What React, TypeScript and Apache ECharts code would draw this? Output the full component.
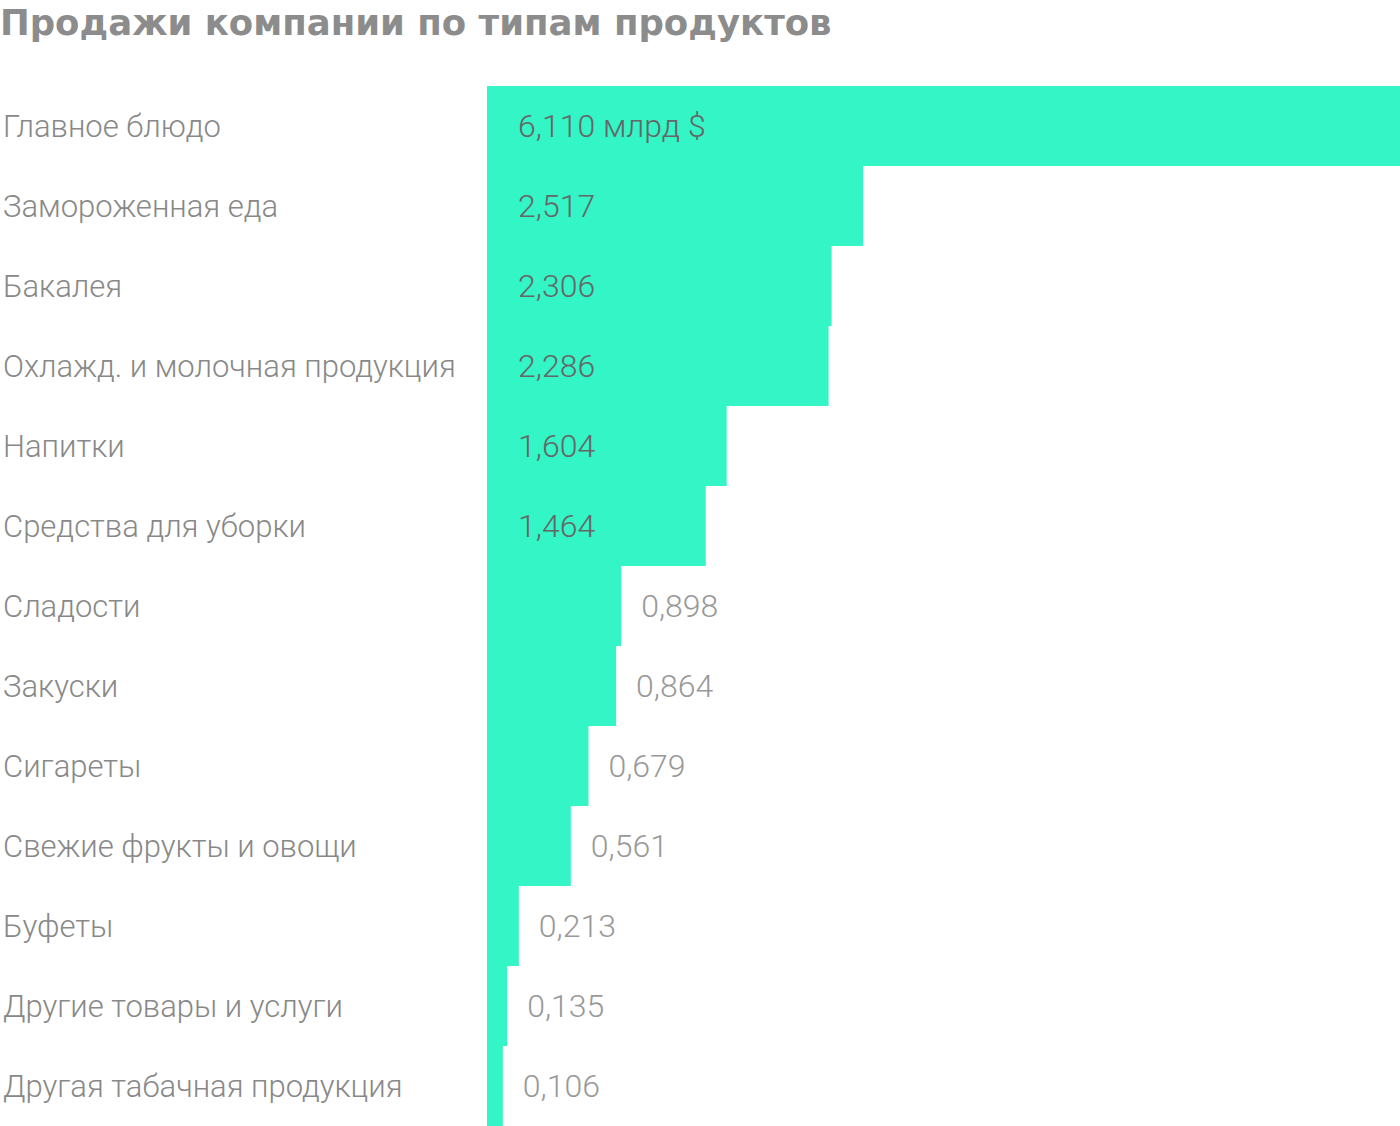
import React, { useEffect, useRef } from "react";
import * as echarts from "echarts";

const titleText = "Продажи компании по типам продуктов";
const categories = [
  "Главное блюдо",
  "Замороженная еда",
  "Бакалея",
  "Охлажд. и молочная продукция",
  "Напитки",
  "Средства для уборки",
  "Сладости",
  "Закуски",
  "Сигареты",
  "Свежие фрукты и овощи",
  "Буфеты",
  "Другие товары и услуги",
  "Другая табачная продукция",
];
const values = [6.11, 2.517, 2.306, 2.286, 1.604, 1.464, 0.898, 0.864, 0.679, 0.561, 0.213, 0.135, 0.106];
const unitSuffix = " млрд $";

const fmt = (v: number) => v.toFixed(3).replace(".", ",");

export default function App() {
  const ref = useRef<HTMLDivElement>(null);
  useEffect(() => {
    const chart = echarts.init(ref.current!, null, { renderer: "svg" });
    const data = values.map((v, i) => {
      const inside = v > 1;
      return {
        value: v,
        label: {
          show: true,
          position: inside ? "insideLeft" : "right",
          distance: inside ? 31 : 20,
          color: inside ? "#666666" : "#999999",
          fontSize: 32,
          fontWeight: 300,
          fontFamily: "Roboto",
          formatter: () => fmt(v) + (i === 0 ? unitSuffix : ""),
        },
      };
    });
    chart.setOption({
      animation: false,
      title: {
        text: titleText,
        left: 0,
        top: 4,
        padding: 0,
        textStyle: {
          fontSize: 35.5,
          fontWeight: "bold",
          color: "#8c8c8c",
          fontFamily: "DejaVu Sans",
        },
      },
      grid: { left: 483, right: 0, top: 86, bottom: 0, containLabel: false },
      xAxis: {
        type: "value",
        min: 0,
        max: values[0],
        show: false,
      },
      yAxis: {
        type: "category",
        data: categories,
        inverse: true,
        axisLine: { show: false },
        axisTick: { show: false },
        splitLine: { show: false },
        axisLabel: {
          align: "left",
          margin: 484,
          color: "#888888",
          fontSize: 31,
          fontWeight: 300,
          fontFamily: "Roboto",
        },
      },
      series: [
        {
          type: "bar",
          data,
          barWidth: "100%",
          barCategoryGap: 0,
          itemStyle: { color: "#33F5C5" },
        },
      ],
    });
    return () => chart.dispose();
  }, []);
  return (
    <div
      ref={ref}
      style={{ position: "absolute", left: 0, top: 0, width: 1400, height: 1126, background: "#fff" }}
    />
  );
}
